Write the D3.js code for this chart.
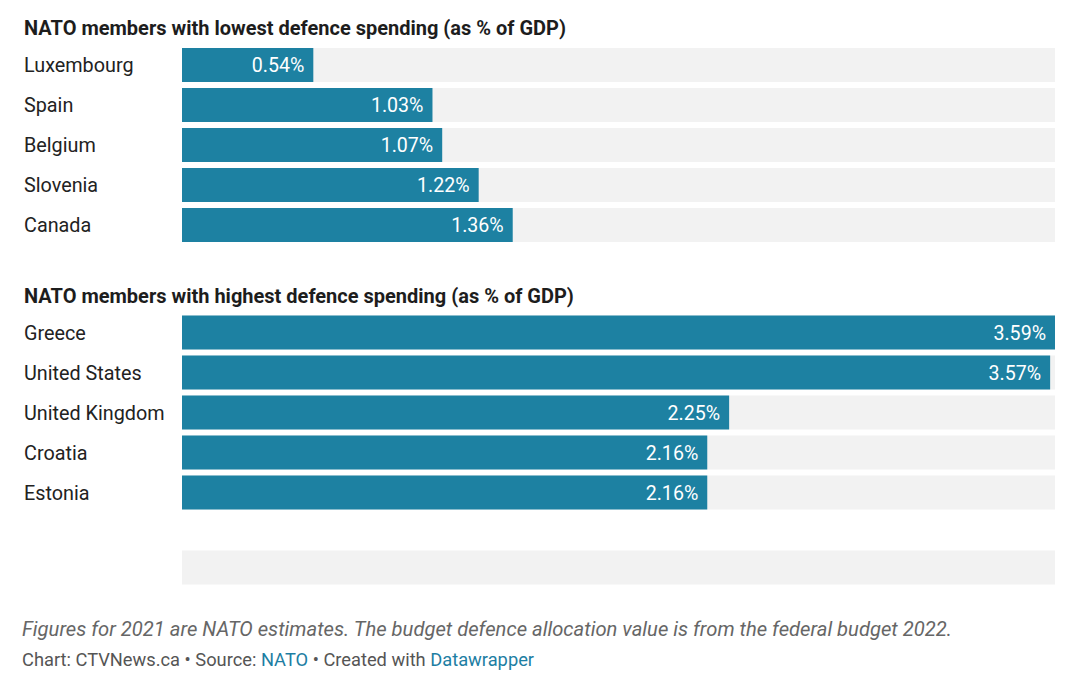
<!DOCTYPE html>
<html>
<head>
<meta charset="utf-8">
<script src="https://cdn.jsdelivr.net/npm/d3@7"></script>
<style>
  html, body { margin: 0; padding: 0; background: #fff; }
  svg { display: block; font-family: Roboto, "Noto Sans", sans-serif; }
</style>
</head>
<body>
<svg id="chart" width="1080" height="681"></svg>
<script>
const lowTitle = "NATO members with lowest defence spending (as % of GDP)";
const lowCountries = ["Luxembourg", "Spain", "Belgium", "Slovenia", "Canada"];
const lowValues = [0.54, 1.03, 1.07, 1.22, 1.36];

const highTitle = "NATO members with highest defence spending (as % of GDP)";
const highCountries = ["Greece", "United States", "United Kingdom", "Croatia", "Estonia"];
const highValues = [3.59, 3.57, 2.25, 2.16, 2.16];

const extraCountries = [""];
const extraValues = [null];

const noteText = "Figures for 2021 are NATO estimates. The budget defence allocation value is from the federal budget 2022.";

const svg = d3.select("#chart");
const barColor = "#1d81a2";
const trackColor = "#f2f2f2";

const maxVal = d3.max(highValues.concat(lowValues));
const x = d3.scaleLinear().domain([0, maxVal]).range([182, 1055]);

const fmt = v => v.toFixed(2) + "%";

function section(title, countries, values, titleBaseline, barTop) {
  const g = svg.append("g");
  if (title) {
    g.append("text")
      .attr("x", 24).attr("y", titleBaseline)
      .attr("font-size", 20).attr("font-weight", 700).attr("fill", "#1d1d1d")
      .text(title);
  }
  const y = d3.scaleBand()
    .domain(d3.range(countries.length))
    .range([barTop, barTop + 40 * countries.length])
    .paddingInner(0.15).paddingOuter(0.075);
  const rows = g.selectAll("g.row").data(countries.map((c, i) => ({c, v: values[i], i})))
    .join("g").attr("class", "row");
  rows.append("rect")
    .attr("x", x(0)).attr("y", d => y(d.i))
    .attr("width", x(maxVal) - x(0)).attr("height", y.bandwidth())
    .attr("fill", trackColor);
  rows.filter(d => d.v != null).append("rect")
    .attr("x", x(0)).attr("y", d => y(d.i))
    .attr("width", d => x(d.v) - x(0)).attr("height", y.bandwidth())
    .attr("fill", barColor);
  rows.append("text")
    .attr("x", 24).attr("y", d => y(d.i) + y.bandwidth() / 2 + 7)
    .attr("font-size", 19.8).attr("fill", "#222")
    .text(d => d.c);
  rows.filter(d => d.v != null).append("text")
    .attr("x", d => x(d.v) - 9).attr("y", d => y(d.i) + y.bandwidth() / 2 + 7)
    .attr("text-anchor", "end")
    .attr("font-size", 19.6).attr("fill", "#fff")
    .text(d => fmt(d.v));
}

section(lowTitle, lowCountries, lowValues, 35, 45);
section(highTitle, highCountries, highValues, 302.5, 312.5);
section(null, extraCountries, extraValues, 0, 547.5);

svg.append("text")
  .attr("x", 22).attr("y", 636)
  .attr("font-size", 20.2).attr("font-style", "italic").attr("fill", "#666")
  .text(noteText);

const src = svg.append("text")
  .attr("x", 22).attr("y", 666)
  .attr("font-size", 18.3).attr("fill", "#555");
src.append("tspan").text("Chart: CTVNews.ca • Source: ");
src.append("tspan").attr("fill", "#1d7ea3").text("NATO");
src.append("tspan").text(" • Created with ");
src.append("tspan").attr("fill", "#1d7ea3").text("Datawrapper");
</script>
</body>
</html>
